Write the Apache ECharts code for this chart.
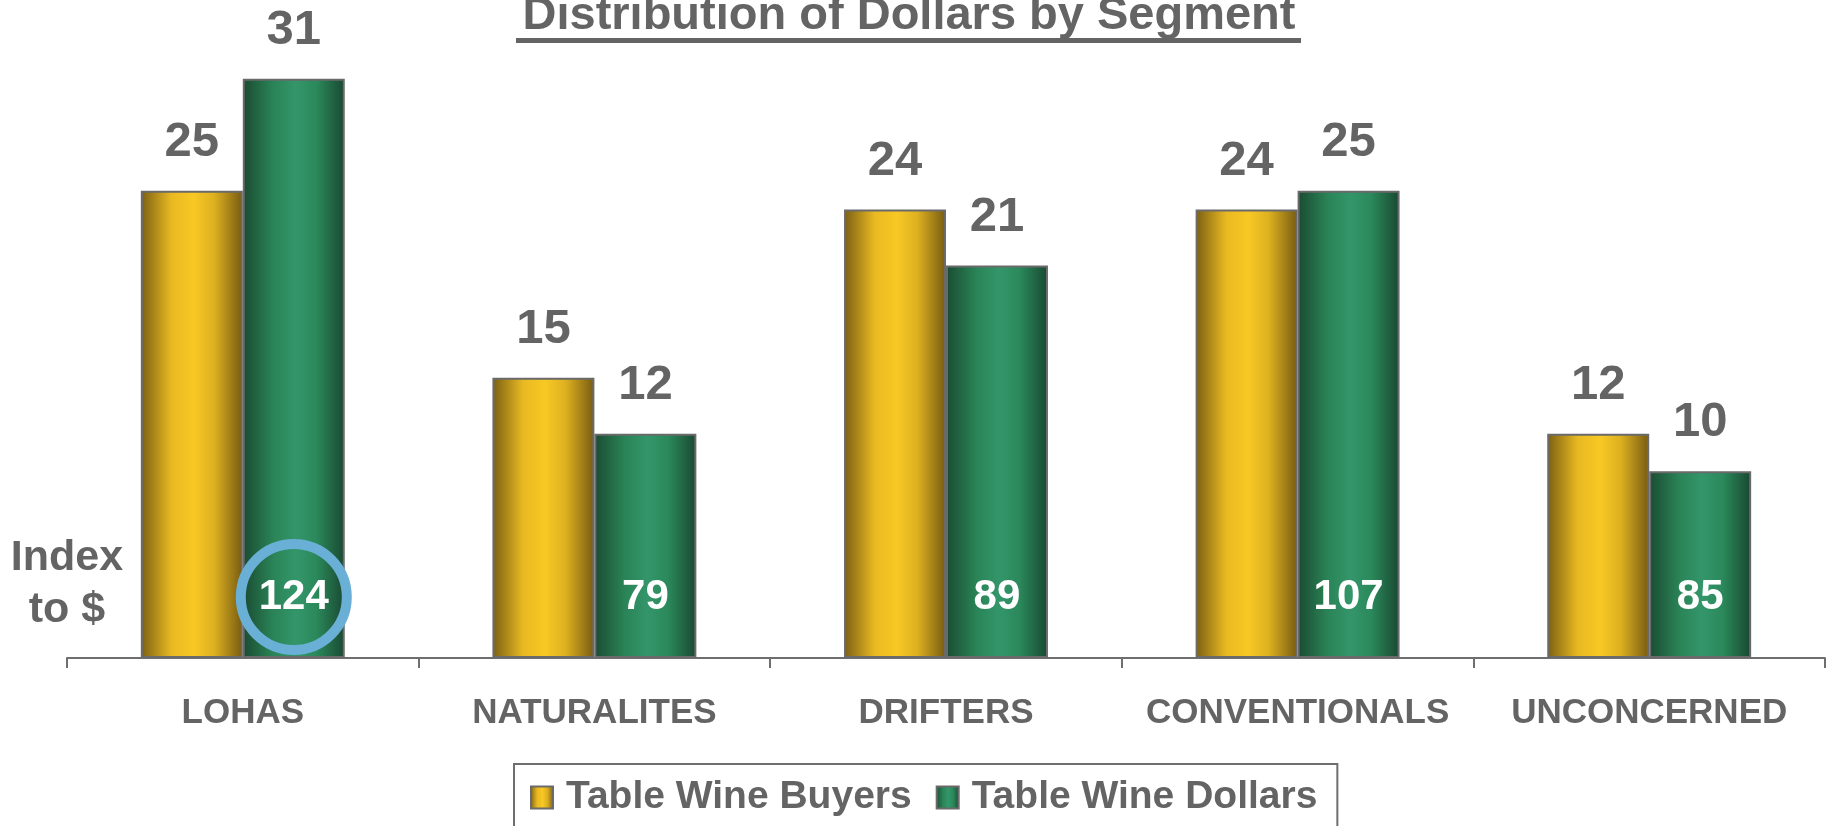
<!DOCTYPE html>
<html>
<head>
<meta charset="utf-8">
<script src="https://cdn.jsdelivr.net/npm/echarts@6/dist/echarts.min.js"></script>
<style>
  html, body { margin: 0; padding: 0; background: #fff; }
  #chart { width: 1833px; height: 826px; }
</style>
</head>
<body>
<div id="chart"></div>
<script>
var categories = ["LOHAS", "NATURALITES", "DRIFTERS", "CONVENTIONALS", "UNCONCERNED"];
var buyers = [25, 15, 24, 24, 12];
var dollars = [31, 12, 21, 25, 10];
var indexToDollars = [124, 79, 89, 107, 85];
var seriesNames = ["Table Wine Buyers", "Table Wine Dollars"];
var titleText = "Distribution of Dollars by Segment";
var highlightIdx = 0; // circled index

var FONT = '"Liberation Sans", Arial, sans-serif';
var GRAY = "#646464";

var myChart = echarts.init(document.getElementById("chart"));

function barGradient(edge1, mid1, mid2, mid3, edge2) {
  return new echarts.graphic.LinearGradient(0, 0, 1, 0, [
    { offset: 0, color: edge1 },
    { offset: 0.3, color: mid1 },
    { offset: 0.52, color: mid2 },
    { offset: 0.72, color: mid3 },
    { offset: 1, color: edge2 },
  ]);
}

var topLabel = {
  show: true,
  position: "top",
  distance: 24,
  color: GRAY,
  fontFamily: FONT,
  fontWeight: "bold",
  fontSize: 49,
};

var option = {
  animation: false,
  backgroundColor: "#fff",
  grid: { left: 67, right: 8, top: 4, bottom: 168 },
  graphic: [
    {
      type: "text",
      x: 909,
      y: -7,
      style: {
        text: titleText,
        fill: GRAY,
        font: "bold 47px " + FONT,
        align: "center",
        verticalAlign: "top",
      },
    },
    {
      // title underline
      type: "rect",
      shape: { x: 516, y: 38, width: 785, height: 5 },
      style: { fill: GRAY },
    },
    {
      type: "text",
      x: 67,
      y: 532,
      style: {
        text: "Index\nto $",
        fill: GRAY,
        font: "bold 43px " + FONT,
        lineHeight: 52,
        align: "center",
        verticalAlign: "top",
      },
    },
  ],
  legend: {
    data: seriesNames,
    left: 514,
    top: 764,
    padding: [14, 20, 40, 16],
    borderColor: "#6e6e6e",
    borderWidth: 2,
    itemWidth: 22,
    itemHeight: 22,
    itemGap: 24,
    icon: "rect",
    textStyle: {
      color: GRAY,
      fontFamily: FONT,
      fontWeight: "bold",
      fontSize: 39,
      padding: [0, 0, 0, 8],
    },
  },
  xAxis: {
    type: "category",
    data: categories,
    axisLine: { lineStyle: { color: "#6e6e6e", width: 2 } },
    axisTick: { show: true, length: 10, lineStyle: { color: "#6e6e6e", width: 2 } },
    axisLabel: {
      color: GRAY,
      fontFamily: FONT,
      fontWeight: "bold",
      fontSize: 35,
      margin: 38,
      interval: 0,
    },
  },
  yAxis: {
    type: "value",
    min: 0,
    max: 35,
    show: false,
    splitLine: { show: false },
  },
  series: [
    {
      name: seriesNames[0],
      type: "bar",
      data: buyers,
      barGap: "0%",
      barCategoryGap: "42%",
      itemStyle: {
        color: barGradient("#7a5f13", "#e9b922", "#f8c824", "#ddb020", "#765b12"),
        borderColor: "#6a6a6a",
        borderWidth: 2,
      },
      label: topLabel,
    },
    {
      name: seriesNames[1],
      type: "bar",
      data: dollars,
      barGap: "0%",
      barCategoryGap: "42%",
      itemStyle: {
        color: barGradient("#1a4b32", "#2a8457", "#33966a", "#2b895b", "#194831"),
        borderColor: "#6a6a6a",
        borderWidth: 2,
      },
      label: topLabel,
      markPoint: {
        symbol: "circle",
        silent: true,
        label: {
          show: true,
          position: "inside",
          formatter: "{c}",
          color: "#fff",
          fontFamily: FONT,
          fontWeight: "bold",
          fontSize: 42,
        },
        data: indexToDollars.map(function (v, i) {
          var ring = i === highlightIdx;
          return {
            coord: [categories[i], 0],
            value: v,
            symbolSize: ring ? 106 : 1,
            symbolOffset: [0, -61],
            itemStyle: {
              color: "rgba(0,0,0,0)",
              borderColor: ring ? "#6aafd5" : "rgba(0,0,0,0)",
              borderWidth: ring ? 10 : 0,
            },
          };
        }),
      },
    },
  ],
};

myChart.setOption(option, true);
window.addEventListener("resize", function () {
  myChart.resize();
});
</script>
</body>
</html>
